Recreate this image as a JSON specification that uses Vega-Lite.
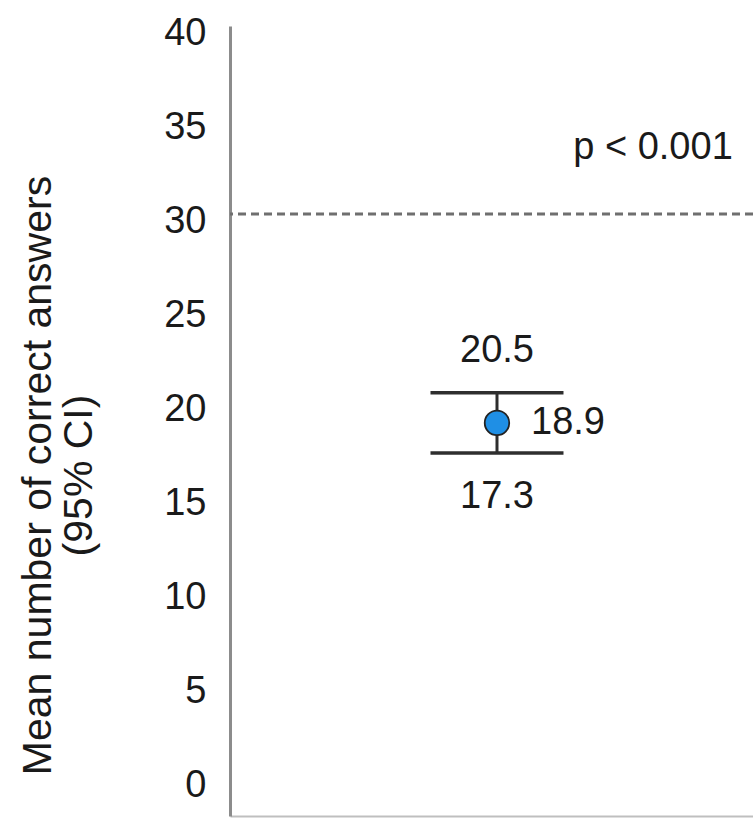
{
  "$schema": "https://vega.github.io/schema/vega-lite/v6.json",
  "autosize": {"type": "none"},
  "padding": {"left": 230, "top": 26, "right": 0, "bottom": 2},
  "width": 523,
  "height": 790,
  "background": "white",
  "config": {"view": {"stroke": null}, "font": "Liberation Sans"},
  "data": {"values": [{"group": "Sample", "mean": 18.9, "lo": 17.3, "hi": 20.5, "ref": 30, "p": "p < 0.001", "ppos": 33.5}]},
  "layer": [
    {
      "mark": {"type": "rule", "color": "#6f6f6f", "strokeWidth": 3, "strokeDash": [8, 5]},
      "encoding": {
        "y": {
          "field": "ref", "type": "quantitative",
          "scale": {"domain": [-2, 40], "nice": false, "zero": false},
          "axis": {
            "title": ["Mean number of correct answers", "(95% CI)"],
            "titleFontSize": 41, "titleFontWeight": "normal", "titleColor": "#1a1a1a",
            "titleFont": "Liberation Sans",
            "titleAngle": -90, "titleX": -180, "titleY": 449, "titleAlign": "center",
            "titleBaseline": "alphabetic", "titleLineHeight": 41,
            "values": [0, 5, 10, 15, 20, 25, 30, 35, 40],
            "labelFontSize": 38, "labelColor": "#1a1a1a", "labelPadding": 24, "labelOffset": 7,
            "ticks": false, "grid": false,
            "domainColor": "#8c8c8c", "domainWidth": 3
          }
        }
      }
    },
    {
      "mark": {"type": "rule", "color": "#2e2e2e", "strokeWidth": 3},
      "encoding": {
        "x": {"field": "group", "type": "nominal",
          "scale": {"type": "band", "paddingInner": 0, "paddingOuter": 0.5, "align": 0.521},
          "axis": {"title": null, "labels": false, "ticks": false, "grid": false, "domainColor": "#bfbfbf", "domainWidth": 2}},
        "y": {"field": "lo", "type": "quantitative"},
        "y2": {"field": "hi"}
      }
    },
    {
      "mark": {"type": "tick", "color": "#2e2e2e", "size": 133, "thickness": 3.5, "opacity": 1},
      "encoding": {
        "x": {"field": "group", "type": "nominal"},
        "y": {"field": "lo", "type": "quantitative"}
      }
    },
    {
      "mark": {"type": "tick", "color": "#2e2e2e", "size": 133, "thickness": 3.5, "opacity": 1},
      "encoding": {
        "x": {"field": "group", "type": "nominal"},
        "y": {"field": "hi", "type": "quantitative"}
      }
    },
    {
      "mark": {"type": "point", "shape": "circle", "filled": true, "fill": "#1f8fe5", "stroke": "#222222", "strokeWidth": 1.8, "size": 600, "opacity": 1},
      "encoding": {
        "x": {"field": "group", "type": "nominal"},
        "y": {"field": "mean", "type": "quantitative"}
      }
    },
    {
      "mark": {"type": "text", "fontSize": 38, "color": "#1a1a1a", "dy": -42, "baseline": "middle"},
      "encoding": {
        "x": {"field": "group", "type": "nominal"},
        "y": {"field": "hi", "type": "quantitative"},
        "text": {"field": "hi", "type": "quantitative", "format": ".1f"}
      }
    },
    {
      "mark": {"type": "text", "fontSize": 38, "color": "#1a1a1a", "dy": 44, "baseline": "middle"},
      "encoding": {
        "x": {"field": "group", "type": "nominal"},
        "y": {"field": "lo", "type": "quantitative"},
        "text": {"field": "lo", "type": "quantitative", "format": ".1f"}
      }
    },
    {
      "mark": {"type": "text", "fontSize": 38, "color": "#1a1a1a", "dx": 34, "align": "left", "baseline": "middle"},
      "encoding": {
        "x": {"field": "group", "type": "nominal"},
        "y": {"field": "mean", "type": "quantitative"},
        "text": {"field": "mean", "type": "quantitative", "format": ".1f"}
      }
    },
    {
      "mark": {"type": "text", "fontSize": 38, "color": "#1a1a1a", "dx": 156, "baseline": "middle"},
      "encoding": {
        "x": {"field": "group", "type": "nominal"},
        "y": {"field": "ppos", "type": "quantitative"},
        "text": {"field": "p", "type": "nominal"}
      }
    }
  ]
}
